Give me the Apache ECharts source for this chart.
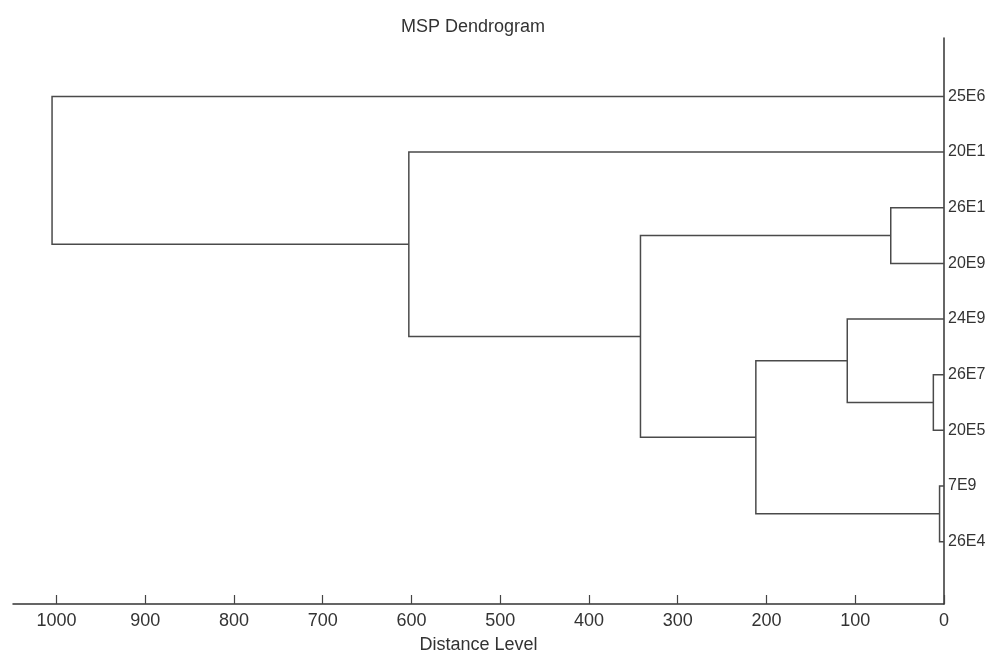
<!DOCTYPE html>
<html>
<head>
<meta charset="utf-8">
<script src="https://cdn.jsdelivr.net/npm/echarts@6/dist/echarts.min.js"></script>
<style>html,body{margin:0;padding:0;background:#fff;}#c{width:996px;height:651px;}</style>
</head>
<body>
<div id="c"></div>
<script>
// Leaves, top to bottom
var leaves = ['25E6', '20E1', '26E1', '20E9', '24E9', '26E7', '20E5', '7E9', '26E4'];
// Merges: [childA, childB, distance]; child names refer to leaves or earlier node ids
var mergeA = ['26E1', '26E7', '7E9', 'n1', 'n3', 'n0', '20E1', '25E6'];
var mergeB = ['20E9', '20E5', '26E4', '24E9', 'n2', 'n4', 'n5', 'n6'];
var mergeDist = [60, 12, 5, 109, 212, 342, 603, 1005];
var xTicks = [0, 100, 200, 300, 400, 500, 600, 700, 800, 900, 1000];

var pos = {};
leaves.forEach(function (n, i) { pos[n] = { y: leaves.length - i, h: 0 }; });
var segs = [];
for (var i = 0; i < mergeDist.length; i++) {
  var a = pos[mergeA[i]], b = pos[mergeB[i]], H = mergeDist[i];
  segs.push({ coords: [[a.h, a.y], [H, a.y], [H, b.y], [b.h, b.y]] });
  pos['n' + i] = { y: (a.y + b.y) / 2, h: H };
}

var font = 'Liberation Sans, Arial, sans-serif';
var chart = echarts.init(document.getElementById('c'));
chart.setOption({
  backgroundColor: '#fff',
  animation: false,
  title: {
    text: 'MSP Dendrogram', left: 468, top: 13, textAlign: 'center',
    textStyle: { fontFamily: font, fontSize: 18, fontWeight: 'normal', color: '#333' }
  },
  grid: { left: 13, right: 52, top: 38, bottom: 47, containLabel: false, outerBoundsMode: 'none' },
  xAxis: {
    type: 'value', inverse: true, min: 0, max: 1049,
    name: 'Distance Level', nameLocation: 'middle', nameGap: 32,
    nameTextStyle: { fontFamily: font, fontSize: 18, color: '#333' },
    axisLine: { onZero: false, lineStyle: { color: '#333', width: 1.5 } },
    axisTick: { inside: true, length: 9, customValues: xTicks, lineStyle: { color: '#444', width: 1.2 } },
    axisLabel: {
      customValues: xTicks, margin: 8, fontFamily: font, fontSize: 18, color: '#333',
      formatter: function (v) { return String(v); }
    },
    splitLine: { show: false }
  },
  yAxis: {
    type: 'value', min: -0.12, max: 10.05, position: 'right',
    axisLine: { show: true, onZero: false, lineStyle: { color: '#333', width: 1.5 } },
    axisTick: { show: false },
    axisLabel: {
      customValues: [1, 2, 3, 4, 5, 6, 7, 8, 9], margin: 4,
      fontFamily: font, fontSize: 16, color: '#333',
      formatter: function (v) { return leaves[leaves.length - v]; }
    },
    splitLine: { show: false }
  },
  series: [{
    type: 'lines', coordinateSystem: 'cartesian2d', polyline: true,
    lineStyle: { color: '#4a4a4a', width: 1.5, opacity: 1 },
    silent: true,
    data: segs
  }]
});
</script>
</body>
</html>
